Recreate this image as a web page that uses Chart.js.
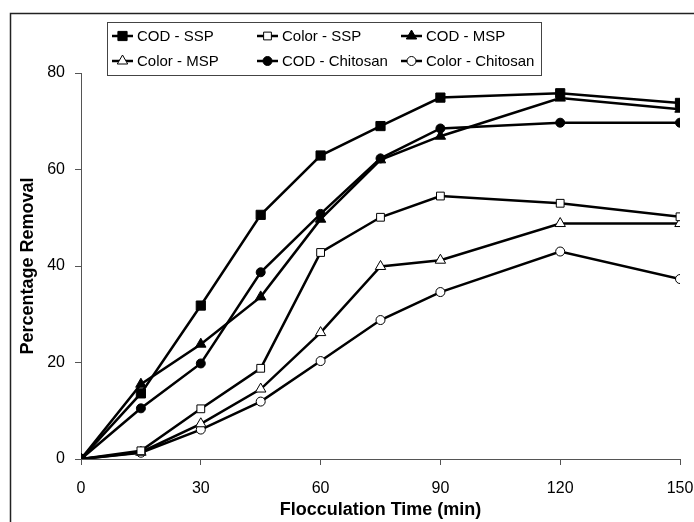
<!DOCTYPE html>
<html>
<head>
<meta charset="utf-8">
<script src="https://cdn.jsdelivr.net/npm/chart.js@4.4.1/dist/chart.umd.min.js"></script>
<style>
    body { margin: 0; background: #fff; }
    #wrap { width: 694px; height: 522px; position: relative; }
</style>
</head>
<body>
<div id="wrap"><canvas id="floccChart" width="694" height="522"></canvas></div>
<script>
// flocculation time (min)
const times = [0, 15, 30, 45, 60, 75, 90, 120, 150];

// percentage removal
const codSSP = [0, 13.6, 31.8, 50.6, 62.9, 69, 74.9, 75.8, 73.8];
const colorSSP = [0, 1.7, 10.4, 18.8, 42.8, 50.1, 54.5, 53, 50.2];
const codMSP = [0, 15.5, 23.8, 33.6, 49.7, 62, 66.9, 74.8, 72.5];
const colorMSP = [0, 1.4, 7.3, 14.5, 26.2, 39.9, 41.2, 48.8, 48.8];
const codChitosan = [0, 10.5, 19.8, 38.7, 50.8, 62.3, 68.5, 69.7, 69.7];
const colorChitosan = [0, 1.3, 6.1, 11.9, 20.3, 28.8, 34.6, 43, 37.3];

const xTicks = [0, 30, 60, 90, 120, 150];
const yTicks = [0, 20, 40, 60, 80];

const fontFamily = '"Liberation Sans", Arial, sans-serif';

function series(label, values, style, filled, radius) {
    return {
        label: label,
        data: times.map((t, i) => ({ x: t, y: values[i] })),
        borderColor: '#000',
        borderWidth: 2.5,
        pointStyle: style,
        pointRadius: radius,
        pointBackgroundColor: filled ? '#000' : '#fff',
        pointBorderColor: '#000',
        pointBorderWidth: 1,
        tension: 0
    };
}

const datasets = [
    series('COD - SSP', codSSP, 'rect', true, 6.5),
    series('Color - SSP', colorSSP, 'rect', false, 5.5),
    series('COD - MSP', codMSP, 'triangle', true, 6),
    series('Color - MSP', colorMSP, 'triangle', false, 6),
    series('COD - Chitosan', codChitosan, 'circle', true, 4.5),
    series('Color - Chitosan', colorChitosan, 'circle', false, 4.5)
];

// outer frame of the figure
const framePlugin = {
    id: 'frame',
    beforeDraw(chart) {
        const c = chart.ctx;
        c.save();
        c.strokeStyle = '#222';
        c.lineWidth = 1.5;
        c.beginPath();
        c.moveTo(10.5, 522);
        c.lineTo(10.5, 13.5);
        c.lineTo(694, 13.5);
        c.stroke();
        c.restore();
    }
};

// boxed legend, 3 columns x 2 rows
const legendBox = {
    id: 'legendBox',
    afterDraw(chart) {
        const c = chart.ctx;
        const colX = [112, 257, 401];
        const rowY = [36, 61];
        c.save();
        c.strokeStyle = '#444';
        c.lineWidth = 1;
        c.fillStyle = '#fff';
        c.fillRect(107.5, 22.5, 434, 53);
        c.strokeRect(107.5, 22.5, 434, 53);
        chart.data.datasets.forEach((ds, i) => {
            const x = colX[i % 3];
            const y = rowY[Math.floor(i / 3)];
            c.strokeStyle = '#000';
            c.lineWidth = 2.5;
            c.beginPath();
            c.moveTo(x, y);
            c.lineTo(x + 21, y);
            c.stroke();
            c.fillStyle = ds.pointBackgroundColor;
            c.strokeStyle = '#000';
            c.lineWidth = 1;
            Chart.helpers.drawPoint(c, { pointStyle: ds.pointStyle, radius: ds.pointRadius, rotation: 0, borderWidth: 1 }, x + 10.5, y);
            c.fillStyle = '#000';
            c.font = '15px ' + fontFamily;
            c.textBaseline = 'middle';
            c.textAlign = 'left';
            c.fillText(ds.label, x + 25, y + 1);
        });
        c.restore();
    }
};

new Chart(document.getElementById('floccChart').getContext('2d'), {
    type: 'line',
    data: { datasets: datasets },
    plugins: [framePlugin, legendBox],
    options: {
        responsive: false,
        animation: false,
        layout: { padding: { top: 73, right: 14, bottom: 0, left: 0 } },
        plugins: {
            legend: { display: false },
            tooltip: { enabled: false }
        },
        scales: {
            x: {
                type: 'linear',
                min: 0,
                max: 150,
                afterBuildTicks: axis => { axis.ticks = xTicks.map(v => ({ value: v })); },
                afterFit: axis => {
                    axis.height = 63;
                    axis.paddingLeft = 0;
                    axis.paddingRight = 0;
                },
                grid: { drawOnChartArea: false, drawTicks: true, tickLength: 6, color: '#555' },
                border: { display: true, color: '#555', width: 1 },
                ticks: { color: '#000', font: { family: fontFamily, size: 16 }, padding: 14, maxRotation: 0 },
                title: { display: true, text: 'Flocculation Time (min)', color: '#000', font: { family: fontFamily, size: 18, weight: 'bold' }, padding: { top: 0, bottom: 1 } }
            },
            y: {
                min: 0,
                max: 80,
                afterBuildTicks: axis => { axis.ticks = yTicks.map(v => ({ value: v })); },
                afterFit: axis => {
                    axis.width = 81;
                    axis.paddingTop = 0;
                    axis.paddingBottom = 0;
                },
                grid: { drawOnChartArea: false, drawTicks: true, tickLength: 6, color: '#555' },
                border: { display: true, color: '#555', width: 1 },
                ticks: { color: '#000', font: { family: fontFamily, size: 16 }, padding: 10 },
                title: { display: true, text: 'Percentage Removal', color: '#000', font: { family: fontFamily, size: 18, weight: 'bold' }, padding: { top: 17, bottom: 0 } }
            }
        }
    }
});
</script>
</body>
</html>
